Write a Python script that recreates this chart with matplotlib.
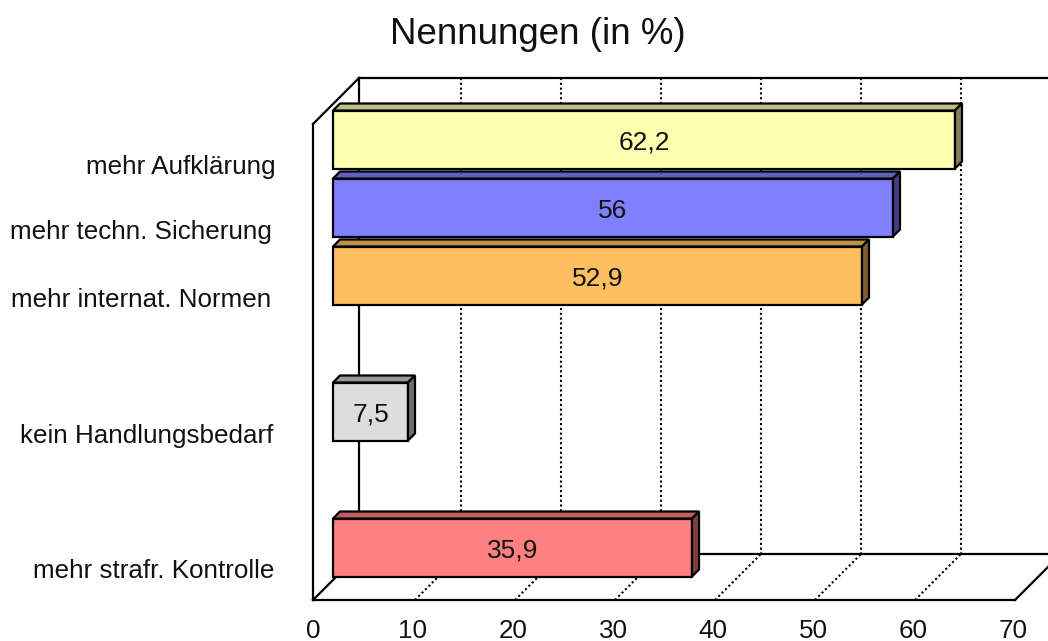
import matplotlib
matplotlib.use('Agg')
import matplotlib.pyplot as plt
from matplotlib.transforms import Affine2D

# categories from top to bottom, the two empty slots hold no bar
slots = [0, 1, 2, 4, 6]
labels = ['mehr Aufklärung', 'mehr techn. Sicherung', 'mehr internat. Normen',
          'kein Handlungsbedarf', 'mehr strafr. Kontrolle']
werte = [62.2, 56, 52.9, 7.5, 35.9]
werte_txt = ['62,2', '56', '52,9', '7,5', '35,9']
farben = ['#FFFFB0', '#8080FF', '#FFBF60', '#DDDDDD', '#FF8080']
oben = ['#BFBF84', '#6060BF', '#BF8F48', '#999999', '#BF6060']
seite = ['#808058', '#404080', '#806030', '#707070', '#804040']
xticks = [0, 10, 20, 30, 40, 50, 60, 70]

# label positions in pixels (right edge, centre)
label_x = [276, 272, 271, 273, 274]
label_y = [167, 232, 300, 436, 571]

W, H = 1048, 641
plt.rcParams['font.family'] = ['Liberation Sans', 'DejaVu Sans']

fig = plt.figure(figsize=(W / 100, H / 100), dpi=100)
ax = fig.add_axes([313 / W, (H - 600) / H, 702 / W, 476 / H])
ax.set_xlim(-0.2, 70)
ax.set_ylim(6.5, -0.5)


def versatz(dx, dy):
    return ax.transData + Affine2D().translate(dx, dy)


# 3d box, back wall is shifted 46 px
hinten = versatz(46, 46)
lw = 1.6
punkte = (0, (1, 1.3))
for t in xticks[1:-1]:
    ax.plot([t, t], [-0.5, 6.5], color='black', lw=1.5, ls=punkte,
            transform=hinten, clip_on=False, zorder=1)
    ax.plot([t, t + 4.6], [6.5, 6.5 - 46 / 68], color='black', lw=1.5,
            ls=punkte, clip_on=False, zorder=1)
ax.plot([-0.2, -0.2, 70], [-0.5, 6.5, 6.5], color='black', lw=lw, transform=hinten,
        clip_on=False, zorder=1, solid_joinstyle='miter')
ax.plot([-0.2, 70], [-0.5, -0.5], color='black', lw=lw, transform=hinten,
        clip_on=False, zorder=1)
for x, y in [(-0.2, -0.5), (-0.2, 6.5), (70, 6.5)]:
    ax.plot([x, x + 4.6], [y, y - 46 / 68], color='black', lw=lw,
            clip_on=False, zorder=1)

# bars
h = 58 / 68
dx = 0.7
dy = 7 / 68
tr = versatz(18, 18.5)
for i in range(len(werte)):
    v = werte[i]
    t = slots[i] - h / 2
    b = slots[i] + h / 2
    ax.barh(slots[i], v, height=h, color=farben[i], edgecolor='black', linewidth=lw,
            transform=tr, clip_on=False, zorder=3)
    ax.fill([0, v, v + dx, dx], [t, t, t - dy, t - dy], facecolor=oben[i],
            edgecolor='black', lw=lw, transform=tr, clip_on=False, zorder=3)
    ax.fill([v, v, v + dx, v + dx], [t, b, b - dy, t - dy], facecolor=seite[i],
            edgecolor='black', lw=lw, transform=tr, clip_on=False, zorder=3)
    ax.text(v / 2, slots[i] + 3 / 68, werte_txt[i], ha='center', va='center', fontsize=19,
            color='#111111', transform=tr, zorder=4)

ax.set_xlim(-0.2, 70)
ax.set_ylim(6.5, -0.5)
ax.set_yticks([])
ax.set_xticks(xticks)
ax.set_xticklabels([str(t) for t in xticks], fontsize=18.7, color='#111111')
ax.tick_params(axis='x', length=0, pad=14)
for lab in ax.get_xticklabels():
    lab.set_transform(lab.get_transform() + Affine2D().translate(-2, 0))
ax.spines['top'].set_visible(False)
ax.spines['right'].set_visible(False)
ax.spines['left'].set_linewidth(lw)
ax.spines['bottom'].set_linewidth(lw)
ax.patch.set_visible(False)

for i in range(len(labels)):
    fig.text(label_x[i] / W, (H - label_y[i]) / H, labels[i], ha='right', va='center',
             fontsize=18.7, color='#111111')

fig.text(538 / W, (H - 34) / H, 'Nennungen (in %)', ha='center', va='center',
         fontsize=26.5, color='#111111')

plt.savefig('out.png', dpi=100)
